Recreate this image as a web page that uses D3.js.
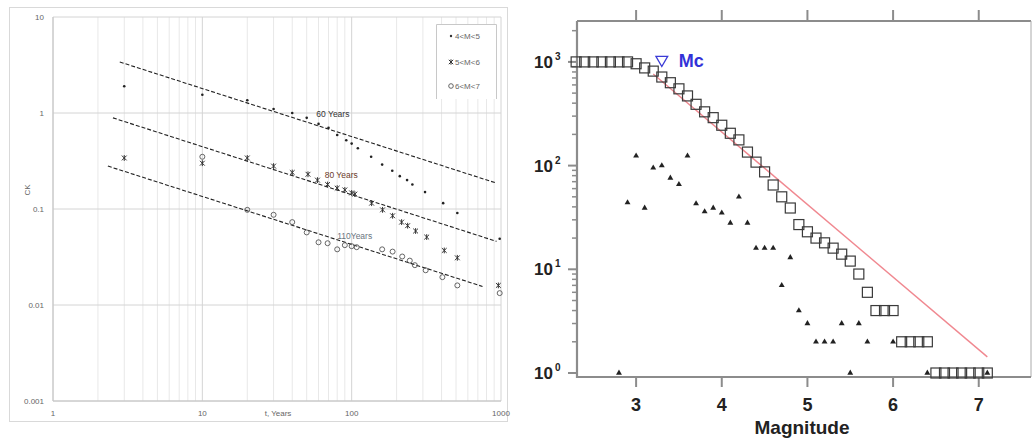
<!DOCTYPE html>
<html><head><meta charset="utf-8">
<script src="https://cdn.jsdelivr.net/npm/d3@7"></script>
<style>body{margin:0;background:#fff}svg{display:block}</style>
</head><body>
<svg id="c" width="1032" height="440"></svg>
<script>
// ---------- Left panel data ----------
const tM45 = [3,10,20,30,40,50,60,70,80,92,100,110,135,160,187,210,235,255,310,410,510,980];
const cM45 = [1.9,1.55,1.36,1.1,1.0,0.89,0.77,0.70,0.59,0.52,0.48,0.43,0.35,0.29,0.25,0.22,0.20,0.18,0.15,0.115,0.091,0.049];
const tM56 = [3,10,20,30,40,51,59,69,80,90,100,105,136,161,188,216,237,268,318,417,510,960];
const cM56 = [0.34,0.30,0.34,0.28,0.24,0.23,0.20,0.18,0.165,0.158,0.147,0.143,0.115,0.098,0.085,0.073,0.067,0.059,0.051,0.037,0.031,0.016];
const tM67 = [10,20,30,40,50,60,69,80,90,100,108,160,188,218,245,265,313,405,510,980];
const cM67 = [0.35,0.098,0.087,0.073,0.057,0.045,0.044,0.038,0.042,0.041,0.040,0.038,0.036,0.032,0.029,0.026,0.023,0.0195,0.016,0.0133];
const trendLines = [
  {label:"60 Years", from:[2.8,3.4],  to:[933,0.186], at:[58,0.9],  color:"#333"},
  {label:"80 Years", from:[2.52,0.89],to:[933,0.046], at:[66,0.21], color:"#6b3a2a"},
  {label:"110Years", from:[2.33,0.28],to:[752,0.0156],at:[80,0.049],color:"#6a7580"}
];
const legendLabels = ["4<M<5","5<M<6","6<M<7"];
const xTicksL = [1,10,100,1000];
const yTicksL = [10,1,0.1,0.01,0.001];
const yTickTextL = ["10","1","0.1","0.01","0.001"];

// ---------- Right panel data ----------
const cumMag = [2.3,2.4,2.5,2.6,2.7,2.8,2.9,3.0,3.1,3.2,3.3,3.4,3.5,3.6,3.7,3.8,3.9,4.0,4.1,4.2,4.3,4.4,4.5,4.6,4.7,4.8,4.9,5.0,5.1,5.2,5.3,5.4,5.5,5.6,5.7,5.8,5.9,6.0,6.1,6.2,6.3,6.4,6.5,6.6,6.7,6.8,6.9,7.0,7.1];
const cumN = [1000,1000,1000,1000,1000,1000,1000,960,875,815,715,630,550,470,390,330,290,245,205,177,135,108,87,65,50,39,27,23,20,18,16,14,12,9,6,4,4,4,2,2,2,2,1,1,1,1,1,1,1];
const binMag = [2.8,2.9,3.0,3.1,3.2,3.3,3.4,3.5,3.6,3.7,3.8,3.9,4.0,4.1,4.2,4.3,4.4,4.5,4.6,4.7,4.8,4.9,5.0,5.1,5.2,5.3,5.4,5.5,5.6,5.7,6.0,6.4,7.1];
const binN = [1,44,124,39,95,100,76,66,124,43,36,39,35,28,50,28,16,16,16,7,13,4,3,2,2,2,3,1,3,2,2,1,1];
const fitLine = [[3.2,766],[7.1,1.43]];
const mc = {mag:3.3, n:1050, label:"Mc"};
const xTicksR = [3,4,5,6,7];
const yTicksR = [1,10,100,1000];
const yTickExp = ["0","1","2","3"];

const svg = d3.select("#c");

// ================= LEFT PANEL =================
const L = svg.append("g");
L.append("rect").attr("x",9.5).attr("y",7.5).attr("width",498).attr("height",414)
  .attr("fill","#fff").attr("stroke","#d9d9d9");
const xL = d3.scaleLog().domain([1,1000]).range([53,501]);
const yL = d3.scaleLog().domain([0.001,10]).range([401,17]);

const minorX = xL.ticks().filter(v => !xTicksL.includes(v));
L.append("g").selectAll("line").data(minorX).join("line")
  .attr("x1",d=>xL(d)).attr("x2",d=>xL(d)).attr("y1",yL(10)).attr("y2",yL(0.001))
  .attr("stroke","#e8e8e8").attr("stroke-width",1);
L.append("g").selectAll("line").data(xTicksL).join("line")
  .attr("x1",d=>xL(d)).attr("x2",d=>xL(d)).attr("y1",yL(10)).attr("y2",yL(0.001))
  .attr("stroke","#d4d4d4").attr("stroke-width",1);
L.append("g").selectAll("line").data(yTicksL).join("line")
  .attr("x1",xL(1)).attr("x2",xL(1000)).attr("y1",d=>yL(d)).attr("y2",d=>yL(d))
  .attr("stroke","#d4d4d4").attr("stroke-width",1);
L.append("line").attr("x1",xL(1)).attr("x2",xL(1000)).attr("y1",yL(0.001)).attr("y2",yL(0.001))
  .attr("stroke","#c4c4c4");
L.append("line").attr("x1",xL(1)).attr("x2",xL(1)).attr("y1",yL(10)).attr("y2",yL(0.001))
  .attr("stroke","#c4c4c4");

const tf = "Liberation Sans, Arial, sans-serif";
L.append("g").selectAll("text").data(yTicksL).join("text")
  .attr("x",44).attr("y",d=>yL(d)+3).attr("text-anchor","end")
  .attr("font-family",tf).attr("font-size",8).attr("fill","#666")
  .text((d,i)=>yTickTextL[i]);
L.append("g").selectAll("text").data(xTicksL).join("text")
  .attr("x",d=>xL(d)).attr("y",416).attr("text-anchor","middle")
  .attr("font-family",tf).attr("font-size",8).attr("fill","#666")
  .text(d=>d);
L.append("text").attr("x",278).attr("y",416).attr("text-anchor","middle")
  .attr("font-family",tf).attr("font-size",8).attr("fill","#666").text("t, Years");
L.append("text").attr("transform","translate(30,190) rotate(-90)").attr("text-anchor","middle")
  .attr("font-family",tf).attr("font-size",8).attr("fill","#666").text("CK");

L.append("g").selectAll("line").data(trendLines).join("line")
  .attr("x1",d=>xL(d.from[0])).attr("y1",d=>yL(d.from[1]))
  .attr("x2",d=>xL(d.to[0])).attr("y2",d=>yL(d.to[1]))
  .attr("stroke","#222").attr("stroke-width",1.1).attr("stroke-dasharray","4,2");
L.append("g").selectAll("text").data(trendLines).join("text")
  .attr("x",d=>xL(d.at[0])).attr("y",d=>yL(d.at[1]))
  .attr("font-family",tf).attr("font-size",8.5).attr("fill",d=>d.color)
  .text(d=>d.label);

function asterisk(g, x, y, s){
  g.append("path").attr("d",`M${x-s},${y-s}L${x+s},${y+s}M${x-s},${y+s}L${x+s},${y-s}M${x},${y-s-0.5}L${x},${y+s+0.5}`)
   .attr("stroke","#333").attr("stroke-width",1).attr("fill","none");
}
const g45 = L.append("g");
g45.selectAll("circle").data(tM45.map((t,i)=>[t,cM45[i]])).join("circle")
  .attr("cx",d=>xL(d[0])).attr("cy",d=>yL(d[1])).attr("r",1.3).attr("fill","#222");
const g56 = L.append("g");
tM56.forEach((t,i)=>asterisk(g56, xL(t), yL(cM56[i]), 2.4));
const g67 = L.append("g");
g67.selectAll("circle").data(tM67.map((t,i)=>[t,cM67[i]])).join("circle")
  .attr("cx",d=>xL(d[0])).attr("cy",d=>yL(d[1])).attr("r",2.5)
  .attr("fill","none").attr("stroke","#555").attr("stroke-width",0.9);

const lg = L.append("g");
lg.append("path").attr("d","M436.5,99V24.5H496.5V99").attr("fill","#fff").attr("stroke","#c8c8c8");
const legY = [36,62,86];
lg.append("circle").attr("cx",451).attr("cy",legY[0]).attr("r",1.2).attr("fill","#333");
asterisk(lg, 451, legY[1], 2.2);
lg.append("circle").attr("cx",451).attr("cy",legY[2]).attr("r",2.3).attr("fill","none").attr("stroke","#555").attr("stroke-width",0.9);
lg.selectAll("text").data(legendLabels).join("text")
  .attr("x",455).attr("y",(d,i)=>legY[i]+3)
  .attr("font-family",tf).attr("font-size",8).attr("fill","#666").text(d=>d);

// ================= RIGHT PANEL =================
const R = svg.append("g");
const xR = d3.scaleLinear().domain([2.31,7.61]).range([577,1031]);
const yR = d3.scaleLog().domain([0.915,2480]).range([377,21]);
const axc = "#8c8c8c";

R.append("line").attr("x1",577).attr("x2",1031).attr("y1",21).attr("y2",21).attr("stroke",axc).attr("stroke-width",2);
R.append("line").attr("x1",1031).attr("x2",1031).attr("y1",21).attr("y2",377).attr("stroke","#aaa").attr("stroke-width",1);

R.append("g").selectAll("line").data(xTicksR).join("line")
  .attr("x1",d=>xR(d)).attr("x2",d=>xR(d)).attr("y1",377).attr("y2",387)
  .attr("stroke",axc).attr("stroke-width",2);
R.append("g").selectAll("line").data(xTicksR).join("line")
  .attr("x1",d=>xR(d)).attr("x2",d=>xR(d)).attr("y1",21).attr("y2",10)
  .attr("stroke",axc).attr("stroke-width",2);
R.append("g").selectAll("text").data(xTicksR).join("text")
  .attr("x",d=>xR(d)).attr("y",411).attr("text-anchor","middle")
  .attr("font-family",tf).attr("font-weight","bold").attr("font-size",18).attr("fill","#222")
  .text(d=>d);
R.append("text").attr("x",802).attr("y",434).attr("text-anchor","middle")
  .attr("font-family",tf).attr("font-weight","bold").attr("font-size",19).attr("fill","#222")
  .text("Magnitude");

const minorY = yR.ticks().filter(v => !yTicksR.includes(v));
R.append("g").selectAll("line").data(minorY).join("line")
  .attr("x1",572).attr("x2",577).attr("y1",d=>yR(d)).attr("y2",d=>yR(d))
  .attr("stroke",axc).attr("stroke-width",1.5);
R.append("g").selectAll("line").data(yTicksR).join("line")
  .attr("x1",568).attr("x2",577).attr("y1",d=>yR(d)).attr("y2",d=>yR(d))
  .attr("stroke",axc).attr("stroke-width",2);
R.append("g").selectAll("text").data(yTicksR).join("text")
  .attr("x",553).attr("y",d=>yR(d)+6).attr("text-anchor","end")
  .attr("font-family",tf).attr("font-weight","bold").attr("font-size",17).attr("fill","#222")
  .text("10");
R.append("g").selectAll("text").data(yTicksR).join("text")
  .attr("x",555).attr("y",d=>yR(d)-2)
  .attr("font-family",tf).attr("font-weight","bold").attr("font-size",10).attr("fill","#222")
  .text((d,i)=>yTickExp[i]);

R.append("line").attr("x1",577).attr("x2",577).attr("y1",21).attr("y2",378).attr("stroke",axc).attr("stroke-width",2.2);
R.append("line").attr("x1",576).attr("x2",1031).attr("y1",377).attr("y2",377).attr("stroke",axc).attr("stroke-width",2.2);

R.append("line").attr("x1",xR(fitLine[0][0])).attr("y1",yR(fitLine[0][1]))
  .attr("x2",xR(fitLine[1][0])).attr("y2",yR(fitLine[1][1]))
  .attr("stroke","#f08890").attr("stroke-width",1.4);

const sq = 10;
R.append("g").selectAll("rect").data(cumMag.map((m,i)=>[m,cumN[i]])).join("rect")
  .attr("x",d=>xR(d[0])-sq/2).attr("y",d=>yR(d[1])-sq/2).attr("width",sq).attr("height",sq)
  .attr("fill","none").attr("stroke","#3a3a3a").attr("stroke-width",1.2);

R.append("g").selectAll("path").data(binMag.map((m,i)=>[m,binN[i]])).join("path")
  .attr("transform",d=>`translate(${xR(d[0])},${yR(d[1])})`)
  .attr("d",d3.symbol(d3.symbolTriangle,15))
  .attr("fill","#222");

R.append("path").attr("transform",`translate(${xR(mc.mag)},${yR(mc.n)}) rotate(180)`)
  .attr("d",d3.symbol(d3.symbolTriangle,60)).attr("fill","#fff").attr("stroke","#3b3bd6").attr("stroke-width",1.3);
R.append("text").attr("x",xR(mc.mag)+17).attr("y",yR(mc.n)+7)
  .attr("font-family",tf).attr("font-weight","bold").attr("font-size",18).attr("fill","#3232d8")
  .text(mc.label);
</script>
</body></html>
